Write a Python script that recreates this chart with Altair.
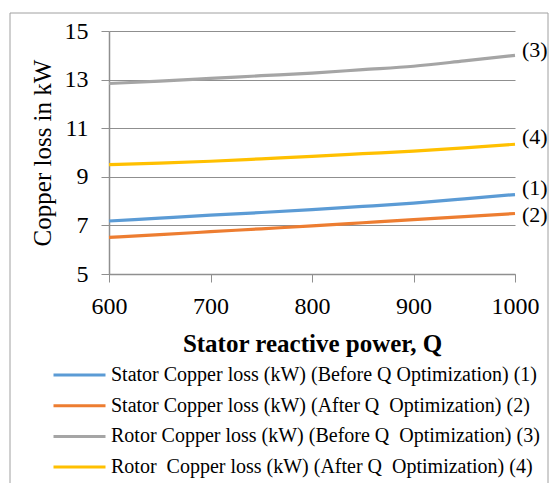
import altair as alt
import pandas as pd

# ---- data ----
q_values = [600, 650, 700, 750, 800, 850, 900, 950, 1000]
stator_before = [7.18, 7.30, 7.42, 7.53, 7.65, 7.78, 7.92, 8.09, 8.27]
stator_after = [6.51, 6.62, 6.74, 6.86, 6.98, 7.11, 7.24, 7.36, 7.49]
rotor_before = [12.84, 12.94, 13.05, 13.16, 13.27, 13.41, 13.55, 13.77, 14.00]
rotor_after = [9.50, 9.56, 9.64, 9.74, 9.84, 9.95, 10.06, 10.19, 10.34]

NB = "\u00a0"
series_names = [
    "Stator Copper loss (kW) (Before Q Optimization) (1)",
    f"Stator Copper loss (kW) (After Q {NB}Optimization) (2)",
    f"Rotor Copper loss (kW) (Before Q {NB}Optimization) (3)",
    f"Rotor {NB}Copper loss (kW) (After Q {NB}Optimization) (4)",
]
series_values = [stator_before, stator_after, rotor_before, rotor_after]
series_colors = ["#5B9BD5", "#ED7D31", "#A5A5A5", "#FFC000"]

end_labels = ["(1)", "(2)", "(3)", "(4)"]
end_label_q = [1000, 1000, 1000, 1000]
end_label_y = [8.53, 7.42, 14.21, 10.63]

y_ticks = [5, 7, 9, 11, 13, 15]
x_ticks = [600, 700, 800, 900, 1000]

rows = []
for name, vals in zip(series_names, series_values):
    for q, v in zip(q_values, vals):
        rows.append({"Q": q, "loss": v, "series": name})
df = pd.DataFrame(rows)
lab_df = pd.DataFrame({"Q": end_label_q, "loss": end_label_y, "label": end_labels})

FONT = "Liberation Serif"
AX = "#8f8f8f"

border = alt.Chart(pd.DataFrame({"a": [0]})).mark_rect(
    filled=False, stroke="#a0a0a0", strokeWidth=1
).encode(
    x=alt.value(-99), x2=alt.value(439), y=alt.value(-18), y2=alt.value(520)
)

lines = alt.Chart(df).mark_line(strokeWidth=3.2, interpolate="monotone").encode(
    x=alt.X(
        "Q:Q",
        scale=alt.Scale(domain=[600, 1000], nice=False, zero=False),
        axis=alt.Axis(
            values=x_ticks, format="d", title="Stator reactive power, Q", grid=False,
            titleFontWeight="bold", titlePadding=13, labelPadding=12, labelFlush=False,
        ),
    ),
    y=alt.Y(
        "loss:Q",
        scale=alt.Scale(domain=[5, 15], nice=False, zero=False),
        axis=alt.Axis(
            values=y_ticks, title="Copper loss in kW", grid=True,
            titleFontWeight="normal", titlePadding=9, labelPadding=13, labelFlush=False,
        ),
    ),
    color=alt.Color(
        "series:N",
        scale=alt.Scale(domain=series_names, range=series_colors),
        sort=series_names,
        legend=alt.Legend(
            title=None, orient="none", legendX=-57, legendY=334,
            symbolType="stroke", symbolSize=2704, symbolStrokeWidth=3,
            labelFont=FONT, labelFontSize=20, labelColor="#000000",
            labelOffset=4, rowPadding=10.7, clipHeight=20, labelLimit=600,
            padding=0,
        ),
    ),
)

labels = alt.Chart(lab_df).mark_text(
    align="left", baseline="middle", dx=7, font=FONT, fontSize=22, color="#000000"
).encode(x="Q:Q", y="loss:Q", text="label:N")

chart = alt.layer(border, lines, labels).properties(
    width=406, height=243,
    padding={"left": 101, "top": 23, "right": 34, "bottom": 209},
    autosize=alt.AutoSizeParams(type="none"),
    background="#ffffff",
).configure_view(stroke=None).configure_axis(
    labelFont=FONT, titleFont=FONT, labelFontSize=24, titleFontSize=25,
    labelColor="#000000", titleColor="#000000",
    domainColor=AX, tickColor=AX, gridColor=AX, domainWidth=1.5,
    tickSize=8, gridWidth=1,
)

chart.save("out.html", embed_options={"renderer": "svg", "actions": False})
